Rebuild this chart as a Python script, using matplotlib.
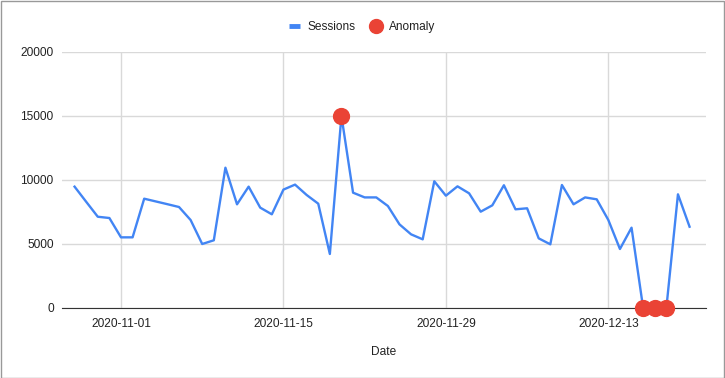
import numpy as np
import pandas as pd
import matplotlib
matplotlib.use("Agg")
import matplotlib.pyplot as plt
import matplotlib.dates as mdates
from matplotlib.lines import Line2D

plt.rcParams['font.family'] = ['Liberation Sans', 'DejaVu Sans']

dates = pd.date_range("2020-10-28", "2020-12-20", freq="D")
sessions = [9480, 8300, 7130, 7030, 5520, 5520, 8540, 8325, 8110, 7890,
            6875, 5000, 5290, 10960, 8100, 9480, 7840, 7320, 9250, 9640,
            8830, 8150, 4220, 15000, 9010, 8640, 8640, 7970, 6535, 5755,
            5365, 9900, 8775, 9505, 8960, 7525, 8020, 9590, 7710, 7790,
            5440, 4975, 9610, 8100, 8640, 8490, 6875, 4610, 6275, 0,
            0, 0, 8880, 6350]
anomaly_dates = pd.to_datetime(["2020-11-20", "2020-12-16", "2020-12-17", "2020-12-18"])
anomaly_values = [15000, 0, 0, 0]

blue = "#4285F4"
red = "#EA4335"

fig = plt.figure(figsize=(7.25, 3.78), dpi=100)
ax = fig.add_axes([62 / 725, 1 - 308 / 378, (706 - 62) / 725, (308 - 52) / 378])

ax.plot(dates, sessions, color=blue, lw=1.7, zorder=3)
ax.scatter(anomaly_dates, anomaly_values, s=130, color=red, zorder=4, clip_on=False)

ax.set_ylim(0, 20000)
ax.set_yticks([0, 5000, 10000, 15000, 20000])
ax.set_xlim(pd.Timestamp("2020-10-26 22:00"), pd.Timestamp("2020-12-21 10:00"))
ax.set_xticks(pd.to_datetime(["2020-11-01", "2020-11-15", "2020-11-29", "2020-12-13"]))
ax.xaxis.set_major_formatter(mdates.DateFormatter("%Y-%m-%d"))

ax.grid(True, color="#d9d9d9", lw=1)
ax.set_axisbelow(True)
for s in ["top", "right", "left"]:
    ax.spines[s].set_visible(False)
ax.spines["bottom"].set_color("#333333")
ax.tick_params(length=0, labelsize=8.6, colors="#222222")
ax.tick_params(axis="y", pad=6)
ax.tick_params(axis="x", pad=7)
ax.set_xlabel("Date", fontsize=8.6, color="#222222", labelpad=12)

handles = [Line2D([], [], color=blue, lw=3.5, solid_capstyle="butt"),
           Line2D([], [], marker="o", color=red, ls="", markersize=10)]
fig.legend(handles, ["Sessions", "Anomaly"], loc="center", bbox_to_anchor=(362 / 725, 1 - 27 / 378),
           ncol=2, frameon=False, fontsize=8.6, handlelength=1.0, columnspacing=1.2,
           handletextpad=0.6, labelcolor="#222222")

fig.patches.append(plt.Rectangle((0.001, 0.001), 0.997, 0.997, transform=fig.transFigure,
                                 fill=False, edgecolor="#999999", lw=1))

fig.savefig("out.png", dpi=100)
